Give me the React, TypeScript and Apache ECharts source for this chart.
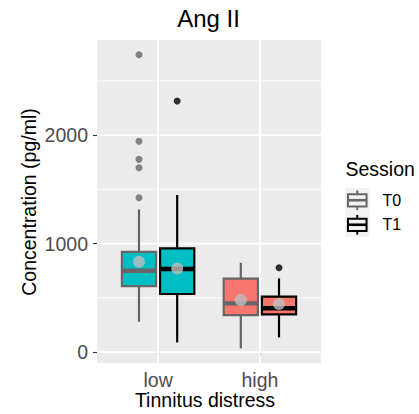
import React, { useEffect, useRef } from 'react';
import * as echarts from 'echarts';

const categories = ['low', 'high'];
const sessions = ['T0', 'T1'];
// [lower whisker, Q1, median, Q3, upper whisker] per category
const t0Stats = [
  [279, 608, 749, 924, 1315],
  [34, 341, 449, 676, 823],
];
const t1Stats = [
  [89, 535, 765, 956, 1447],
  [135, 347, 403, 510, 679],
];
const t0Outliers = [[2740, 1942, 1776, 1699, 1422], []];
const t1Outliers = [[2313], [777]];
const t0Means = [832, 479];
const t1Means = [771, 442];
const yMajorTicks = [0, 1000, 2000];
const yMinorTicks = [500, 1500, 2500];

const fillColors = ['#00BFC4', '#F8766D'];
const sessionColors = ['#666666', '#000000'];
const FONT = 'Liberation Sans, Arial, Helvetica, sans-serif';

const X_MIN = 0.4;
const X_MAX = 2.6;
const Y_MIN = -101;
const Y_MAX = 2876;
const DODGE = 0.1875;
const BOX_HALF = 0.168;

export default function App() {
  const ref = useRef<HTMLDivElement>(null);
  useEffect(() => {
    const chart = echarts.init(ref.current!, null, { renderer: 'svg' });
    const statsBySession = [t0Stats, t1Stats];
    const outliersBySession = [t0Outliers, t1Outliers];
    const meansBySession = [t0Means, t1Means];
    const offsets = [-DODGE, DODGE];

    const gridData: number[][] = [
      ...yMinorTicks.map((v) => [0, v, 0]),
      ...yMajorTicks.map((v) => [0, v, 1]),
      ...categories.map((_, i) => [1, i + 1, 1]),
    ];

    const boxSeries = sessions.map((s, si) => ({
      type: 'custom',
      name: s,
      z: 3,
      data: categories.map((_, ci) => [ci + 1 + offsets[si], ...statsBySession[si][ci], ci]),
      encode: { x: 0, y: [1, 2, 3, 4, 5] },
      renderItem: (params: any, api: any) => {
        const x = api.value(0) as number;
        const ci = api.value(6) as number;
        const cx = api.coord([x, 0])[0];
        const hw = api.size([BOX_HALF, 0])[0];
        const yy = (i: number) => api.coord([x, api.value(i)])[1];
        const yMin = yy(1), yQ1 = yy(2), yMed = yy(3), yQ3 = yy(4), yMax = yy(5);
        const stroke = sessionColors[si];
        return {
          type: 'group',
          children: [
            { type: 'line', shape: { x1: cx, y1: yQ3, x2: cx, y2: yMax }, style: { stroke, lineWidth: 2.2 } },
            { type: 'line', shape: { x1: cx, y1: yQ1, x2: cx, y2: yMin }, style: { stroke, lineWidth: 2.2 } },
            {
              type: 'rect',
              shape: { x: cx - hw, y: yQ3, width: 2 * hw, height: yQ1 - yQ3 },
              style: { fill: fillColors[ci], stroke, lineWidth: 2.2 },
            },
            { type: 'line', shape: { x1: cx - hw, y1: yMed, x2: cx + hw, y2: yMed }, style: { stroke, lineWidth: 4.4 } },
          ],
        };
      },
    }));

    const outlierSeries = sessions.map((s, si) => ({
      type: 'scatter',
      name: s + ' outliers',
      z: 4,
      symbol: 'circle',
      symbolSize: 7,
      itemStyle: { color: sessionColors[si] },
      data: outliersBySession[si].flatMap((arr, ci) => arr.map((v) => [ci + 1 + offsets[si], v])),
    }));

    const meanSeries = {
      type: 'scatter',
      name: 'mean',
      z: 5,
      symbol: 'circle',
      symbolSize: 12,
      itemStyle: { color: '#BEBEBE' },
      data: sessions.flatMap((_, si) => meansBySession[si].map((v, ci) => [ci + 1 + offsets[si], v])),
    };

    const legendKeys: any[] = [];
    sessions.forEach((s, si) => {
      const kx = 345;
      const ky = 188 + si * 24.5;
      const k = 24.5;
      const stroke = sessionColors[si];
      const cx = kx + k / 2;
      legendKeys.push(
        { type: 'rect', shape: { x: kx, y: ky, width: k, height: k }, style: { fill: '#F2F2F2' } },
        { type: 'line', shape: { x1: cx, y1: ky + 0.1 * k, x2: cx, y2: ky + 0.25 * k }, style: { stroke, lineWidth: 2 } },
        { type: 'line', shape: { x1: cx, y1: ky + 0.75 * k, x2: cx, y2: ky + 0.9 * k }, style: { stroke, lineWidth: 2 } },
        {
          type: 'rect',
          shape: { x: kx + 0.12 * k, y: ky + 0.25 * k, width: 0.76 * k, height: 0.5 * k },
          style: { fill: 'none', stroke, lineWidth: 2 },
        },
        { type: 'line', shape: { x1: kx + 0.12 * k, y1: ky + 0.5 * k, x2: kx + 0.88 * k, y2: ky + 0.5 * k }, style: { stroke, lineWidth: 2.6 } },
        {
          type: 'text',
          x: 382.5,
          y: ky + k / 2,
          style: { text: s, fill: '#000', fontSize: 16, fontFamily: FONT, align: 'left', verticalAlign: 'middle', textAlign: 'left', textVerticalAlign: 'middle' },
        }
      );
    });

    const option: any = {
      animation: false,
      backgroundColor: '#FFFFFF',
      grid: { left: 97, right: 98, top: 40, bottom: 51, show: true, backgroundColor: '#EBEBEB', borderWidth: 0 },
      xAxis: {
        type: 'value',
        min: X_MIN,
        max: X_MAX,
        axisLine: { show: false },
        splitLine: { show: false },
        axisTick: { show: true, customValues: categories.map((_, i) => i + 1), length: 4, lineStyle: { color: '#333333', width: 1.1 } },
        axisLabel: {
          customValues: categories.map((_, i) => i + 1),
          formatter: (v: number) => categories[Math.round(v) - 1] ?? '',
          fontSize: 19.5,
          fontFamily: FONT,
          color: '#4D4D4D',
          margin: 7,
        },
      },
      yAxis: {
        type: 'value',
        min: Y_MIN,
        max: Y_MAX,
        axisLine: { show: false },
        splitLine: { show: false },
        axisTick: { show: true, customValues: yMajorTicks, length: 4, lineStyle: { color: '#333333', width: 1.1 } },
        axisLabel: {
          customValues: yMajorTicks,
          formatter: (v: number) => String(Math.round(v)),
          fontSize: 19.5,
          fontFamily: FONT,
          color: '#4D4D4D',
          margin: 9,
        },
      },
      graphic: [
        {
          type: 'text', x: 208.5, y: 18,
          style: { text: 'Ang II', fill: '#000', fontSize: 24, fontFamily: FONT, align: 'center', verticalAlign: 'middle', textAlign: 'center', textVerticalAlign: 'middle' },
        },
        {
          type: 'text', x: 205, y: 400,
          style: { text: 'Tinnitus distress', fill: '#000', fontSize: 19.5, fontFamily: FONT, align: 'center', verticalAlign: 'middle', textAlign: 'center', textVerticalAlign: 'middle' },
        },
        {
          type: 'text', x: 29, y: 202, rotation: Math.PI / 2,
          style: { text: 'Concentration (pg/ml)', fill: '#000', fontSize: 19.5, fontFamily: FONT, align: 'center', verticalAlign: 'middle', textAlign: 'center', textVerticalAlign: 'middle' },
        },
        {
          type: 'text', x: 345.5, y: 169,
          style: { text: 'Session', fill: '#000', fontSize: 19.5, fontFamily: FONT, align: 'left', verticalAlign: 'middle', textAlign: 'left', textVerticalAlign: 'middle' },
        },
        ...legendKeys,
      ],
      series: [
        {
          type: 'custom',
          name: 'gridlines',
          z: 1,
          silent: true,
          data: gridData,
          renderItem: (params: any, api: any) => {
            const cs = params.coordSys;
            const orient = api.value(0);
            const v = api.value(1);
            const lw = api.value(2) ? 1.8 : 0.9;
            if (orient === 0) {
              const y = api.coord([1, v])[1];
              return { type: 'line', shape: { x1: cs.x, y1: y, x2: cs.x + cs.width, y2: y }, style: { stroke: '#FFFFFF', lineWidth: lw } };
            }
            const x = api.coord([v, 0])[0];
            return { type: 'line', shape: { x1: x, y1: cs.y, x2: x, y2: cs.y + cs.height }, style: { stroke: '#FFFFFF', lineWidth: lw } };
          },
        },
        ...boxSeries,
        ...outlierSeries,
        meanSeries,
      ],
    };
    chart.setOption(option);
    return () => chart.dispose();
  }, []);
  return <div ref={ref} style={{ position: 'fixed', left: 0, top: 0, width: 419, height: 414 }} />;
}
